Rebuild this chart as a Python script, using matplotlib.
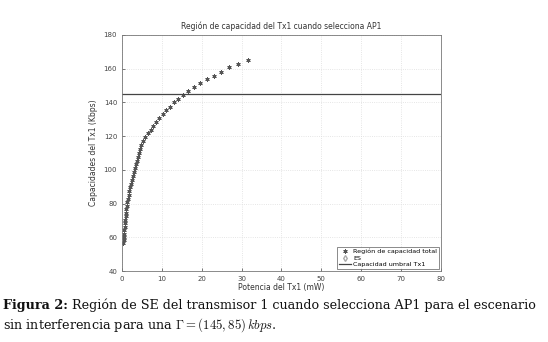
import matplotlib
matplotlib.use("Agg")
from matplotlib import pyplot as plt
import numpy as np

# data
potencia = [0.37, 0.41, 0.46, 0.52, 0.58, 0.65, 0.72, 0.8, 0.9, 1.0, 1.1, 1.2,
            1.35, 1.5, 1.65, 1.85, 2.05, 2.25, 2.45, 2.7, 2.95, 3.2, 3.45, 3.7,
            3.95, 4.2, 4.5, 4.8, 5.3, 5.8, 6.5, 7.2, 7.8, 8.5, 9.3, 10.2, 11.0,
            12.0, 13.1, 14.1, 15.4, 16.6, 18.0, 19.5, 21.2, 23.0, 24.9, 26.9,
            29.1, 31.7]
capacidad = [56.5, 58.2, 60.2, 62.2, 64.2, 66.2, 68.2, 70.3, 72.4, 74.5, 76.6,
             78.7, 80.8, 83.0, 85.2, 87.4, 89.6, 91.8, 94.0, 96.3, 98.6, 100.9,
             103.2, 105.5, 107.8, 110.1, 112.4, 114.7, 117.1, 119.3, 121.7,
             123.8, 126.0, 128.4, 130.7, 133.1, 135.3, 137.5, 140.1, 142.2,
             144.6, 146.9, 149.1, 151.3, 153.7, 155.8, 158.2, 160.8, 162.8, 165.1]
umbral = 145

plt.rcParams['mathtext.fontset'] = 'cm'
fig = plt.figure(figsize=(5.48, 3.42), dpi=100)
ax = fig.add_axes([0.2226, 0.2076, 0.582, 0.6901])

gris = '#555555'
ax.plot(potencia, capacidad, linestyle='none', marker=(6, 2, 0), markersize=3,
        markeredgewidth=0.7, color=gris, label='Región de capacidad total')
ax.plot([], [], linestyle='none', marker='d', markersize=3, markerfacecolor='none',
        markeredgecolor='#aaaaaa', label='ES')
ax.axhline(umbral, color='#444444', linewidth=0.9, label='Capacidad umbral Tx1')

ax.set_xlim(0, 80)
ax.set_ylim(40, 180)
ax.set_xticks(np.arange(0, 81, 10))
ax.set_yticks(np.arange(40, 181, 20))
ax.grid(True, color='#dddddd', linestyle=':', linewidth=0.6)
ax.tick_params(labelsize=5, colors='#444444', length=2, width=0.5, direction='in')
for s in ax.spines.values():
    s.set_color('#777777')
    s.set_linewidth(0.6)

ax.set_title('Región de capacidad del Tx1 cuando selecciona AP1', fontsize=5.5,
             color='#333333', pad=4)
ax.set_xlabel('Potencia del Tx1 (mW)', fontsize=5.5, color='#333333', labelpad=1)
ax.set_ylabel('Capacidades del Tx1 (Kbps)', fontsize=5.5, color='#333333', labelpad=4)
leg = ax.legend(loc='lower right', fontsize=4.6, frameon=True, fancybox=False,
                edgecolor='#555555', borderpad=0.3, labelspacing=0.15,
                handlelength=1.8, handletextpad=0.4, borderaxespad=0.3)
leg.get_frame().set_linewidth(0.6)

# caption
cap_font = dict(family='DejaVu Serif', fontsize=9.2, color='#111111')
t1 = fig.text(0.005, 1 - 305 / 342, 'Figura 2:', fontweight='bold', va='center', **cap_font)
fig.canvas.draw()
bb = t1.get_window_extent().transformed(fig.transFigure.inverted())
fig.text(bb.x1 + 0.008, 1 - 305 / 342,
         'Región de SE del transmisor 1 cuando selecciona AP1 para el escenario',
         va='center', **cap_font)
fig.text(0.005, 1 - 325 / 342,
         r'sin interferencia para una $\Gamma=(145,85)\,kbps$.',
         va='center', **cap_font)

fig.savefig('out.png', dpi=100)
